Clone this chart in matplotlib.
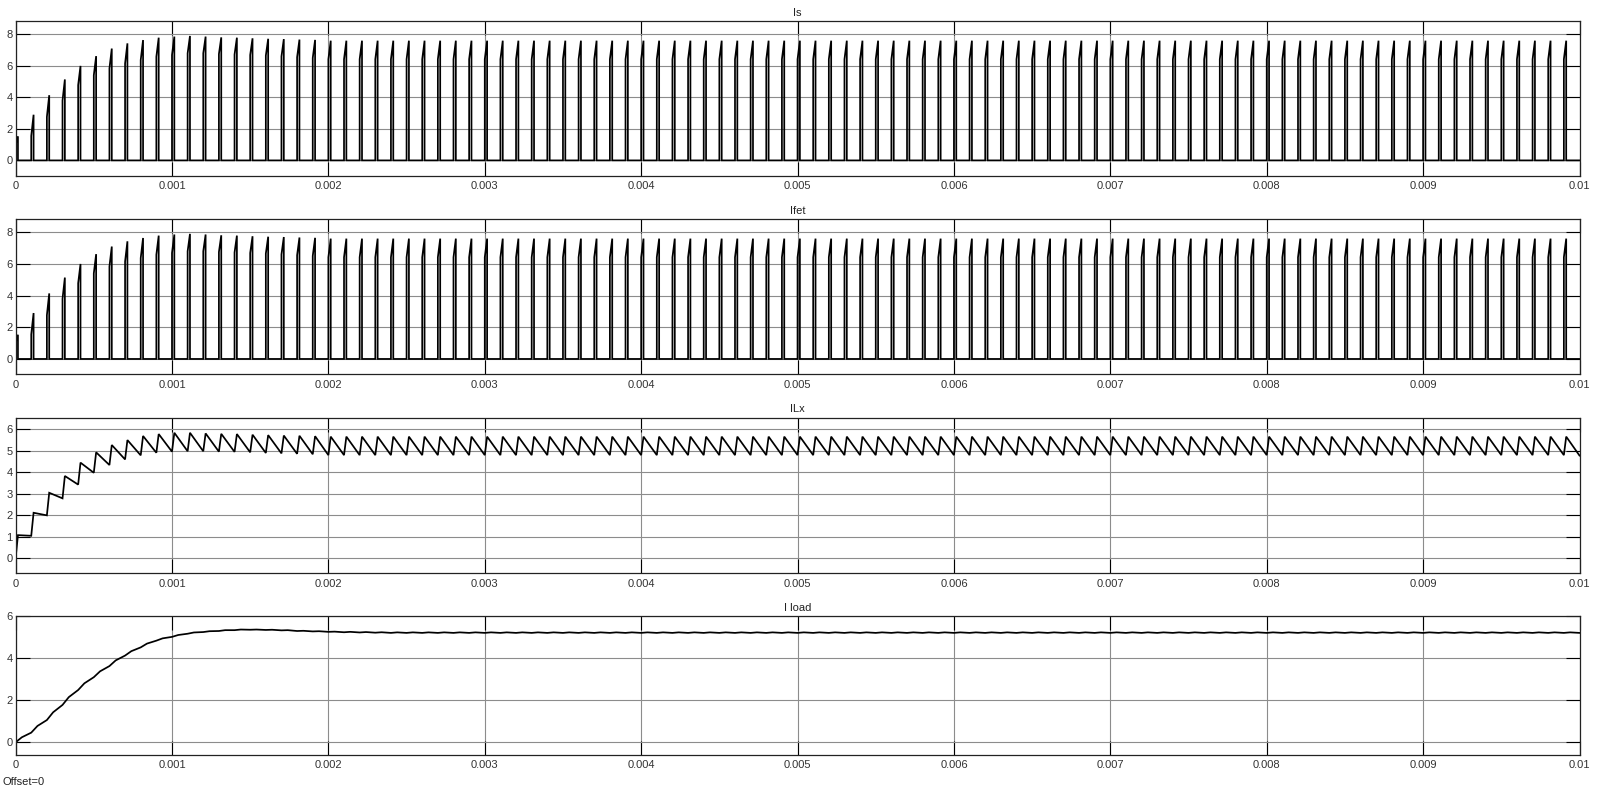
import matplotlib
matplotlib.use("Agg")
import matplotlib.pyplot as plt
import numpy as np

plt.rcParams['font.family'] = ['Liberation Sans', 'DejaVu Sans']

# switching data (one value per 1e-4 s cycle)
period = 1e-4
t_on = 1.5e-5
n_cycles = 100

is_start = [1.00, 1.55, 2.76, 3.80, 4.78, 5.40, 5.84, 6.15, 6.37, 6.58,
            6.69, 6.80, 6.80, 6.75, 6.72, 6.69, 6.65, 6.60, 6.55, 6.50] + [6.42] * 80
is_peak = [1.53, 2.90, 4.14, 5.14, 6.00, 6.62, 7.10, 7.43, 7.64, 7.79,
           7.86, 7.90, 7.86, 7.81, 7.79, 7.75, 7.72, 7.70, 7.67, 7.65] + [7.60] * 80

ilx_valley = [0.00, 1.05, 2.00, 2.79, 3.43, 3.98, 4.34, 4.60, 4.79, 4.91,
              4.96, 4.98, 4.98, 4.96, 4.95, 4.93, 4.90, 4.88, 4.86, 4.84] + [4.80] * 80
ilx_peak = [1.08, 2.12, 3.05, 3.83, 4.45, 4.93, 5.27, 5.50, 5.69, 5.78,
            5.84, 5.84, 5.81, 5.79, 5.78, 5.75, 5.73, 5.71, 5.70, 5.68] + [5.66] * 80
ilx_end = 4.78

iload_start = [0.00, 0.46, 1.06, 1.78, 2.49, 3.10, 3.63, 4.13, 4.52, 4.84,
               5.02, 5.17, 5.25, 5.30, 5.34, 5.36, 5.35, 5.33, 5.30, 5.28,
               5.26, 5.24, 5.23, 5.22] + [5.21] * 76
iload_mid = [0.24, 0.78, 1.43, 2.15, 2.81, 3.38, 3.90, 4.34, 4.70, 4.95,
             5.11, 5.23, 5.29, 5.34, 5.37, 5.37, 5.36, 5.34, 5.31, 5.29,
             5.27, 5.26, 5.25, 5.24] + [5.235] * 76
iload_end = 5.21

titles = ['Is', 'Ifet', 'ILx', 'I load']
xticks = [0, 0.001, 0.002, 0.003, 0.004, 0.005, 0.006, 0.007, 0.008, 0.009, 0.01]
xtick_labels = ['0', '0.001', '0.002', '0.003', '0.004', '0.005',
                '0.006', '0.007', '0.008', '0.009', '0.01']
yticks = [[0, 2, 4, 6, 8], [0, 2, 4, 6, 8], [0, 1, 2, 3, 4, 5, 6], [0, 2, 4, 6]]
ylims = [(-0.97, 8.83), (-0.95, 8.82), (-0.68, 6.54), (-0.59, 6.0)]


def pulse_trace(start, peak):
    t, y = [], []
    for k in range(n_cycles):
        t0 = k * period
        t += [t0, t0, t0 + t_on, t0 + t_on]
        y += [0, start[k], peak[k], 0]
    t.append(n_cycles * period)
    y.append(0)
    return t, y


def ramp_trace(low, high, frac, last):
    t, y = [], []
    for k in range(n_cycles):
        t0 = k * period
        t += [t0, t0 + frac]
        y += [low[k], high[k]]
    t.append(n_cycles * period)
    y.append(last)
    return t, y


traces = [
    pulse_trace(is_start, is_peak),
    pulse_trace(is_start, is_peak),
    ramp_trace(ilx_valley, ilx_peak, t_on, ilx_end),
    ramp_trace(iload_start, iload_mid, 0.4 * period, iload_end),
]

fig = plt.figure(figsize=(16, 7.93), dpi=100)
H = 793.0
boxes = [(21.3, 175.7), (219.3, 374.0), (417.7, 573.0), (616.3, 754.7)]
left = 15.6 / 1600
width = (1579.5 - 15.6) / 1600

for i, (top, bot) in enumerate(boxes):
    ax = fig.add_axes([left, 1 - bot / H, width, (bot - top) / H])
    t, y = traces[i]
    ax.plot(t, y, color='black', lw=1.25, solid_joinstyle='miter')
    ax.set_xlim(0, 0.01)
    ax.set_ylim(*ylims[i])
    ax.set_xticks(xticks, xtick_labels)
    ax.set_yticks(yticks[i])
    ax.grid(True, color='#8c8c8c', lw=0.8)
    ax.tick_params(direction='in', top=True, right=True, length=10, width=0.8,
                   color='black', labelsize=8, labelcolor='#333333')
    ax.tick_params(axis='x', pad=4)
    ax.tick_params(axis='y', pad=2)
    for s in ax.spines.values():
        s.set_linewidth(0.9)
        s.set_color('#222222')
    ax.set_title(titles[i], fontsize=8, color='#222222', pad=4)

fig.text(0.0015, 1 - 782 / H, 'Offset=0', fontsize=8, color='#222222', va='center')

fig.savefig('out.png', dpi=100)
